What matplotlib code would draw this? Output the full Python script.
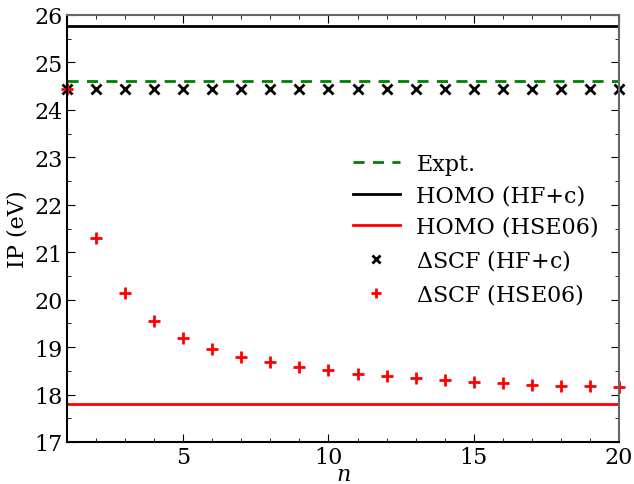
import numpy as np
import matplotlib.pyplot as plt
from matplotlib.ticker import MultipleLocator

plt.rcParams['font.family'] = 'DejaVu Serif'
plt.rcParams['mathtext.fontset'] = 'dejavuserif'

n = np.arange(1, 21)
expt = 24.6
homo_hfc = 25.77
homo_hse = 17.81
dscf_hfc = [24.44] * 20
dscf_hse = [24.45, 21.31, 20.14, 19.55, 19.20, 18.97, 18.80, 18.68, 18.59, 18.51,
            18.44, 18.39, 18.34, 18.30, 18.27, 18.24, 18.21, 18.19, 18.17, 18.15]

fig = plt.figure(figsize=(6.34, 4.85), dpi=100)
ax = fig.add_axes([67/634, 42/485, 552/634, 427/485])

ax.axhline(expt, color='green', ls='--', lw=2, dashes=(4, 3), label='Expt.')
ax.axhline(homo_hfc, color='black', lw=2, label='HOMO (HF+c)')
ax.axhline(homo_hse, color='red', lw=2, label='HOMO (HSE06)')
ax.plot(n, dscf_hfc, 'x', color='black', ms=7, mew=2, ls='none', clip_on=False, label=r'$\Delta$SCF (HF+c)')
ax.plot(n, dscf_hse, '+', color='red', ms=9, mew=2, ls='none', clip_on=False, label=r'$\Delta$SCF (HSE06)')

ax.set_xlim(1, 20)
ax.set_ylim(17, 26)
ax.xaxis.set_major_locator(MultipleLocator(5))
ax.xaxis.set_minor_locator(MultipleLocator(1))
ax.yaxis.set_major_locator(MultipleLocator(1))
ax.yaxis.set_minor_locator(MultipleLocator(0.5))
ax.tick_params(which='both', direction='in', top=True, right=True, labelsize=16, pad=3)
ax.tick_params(which='major', length=6)
ax.tick_params(which='minor', length=3)
for s in ['top', 'right']:
    ax.spines[s].set_color('0.4')
    ax.spines[s].set_linewidth(1.5)
for s in ['left', 'bottom']:
    ax.spines[s].set_linewidth(1.5)

ax.set_xlabel('$n$', fontsize=16, labelpad=-4)
ax.set_ylabel('IP (eV)', fontsize=16, labelpad=4)

ax.legend(loc='center right', bbox_to_anchor=(1.0, 0.497), frameon=False, fontsize=16,
          handlelength=2.1, handletextpad=0.75, labelspacing=0.42, numpoints=1,
          markerscale=0.85)

fig.savefig('out.png', dpi=100)
